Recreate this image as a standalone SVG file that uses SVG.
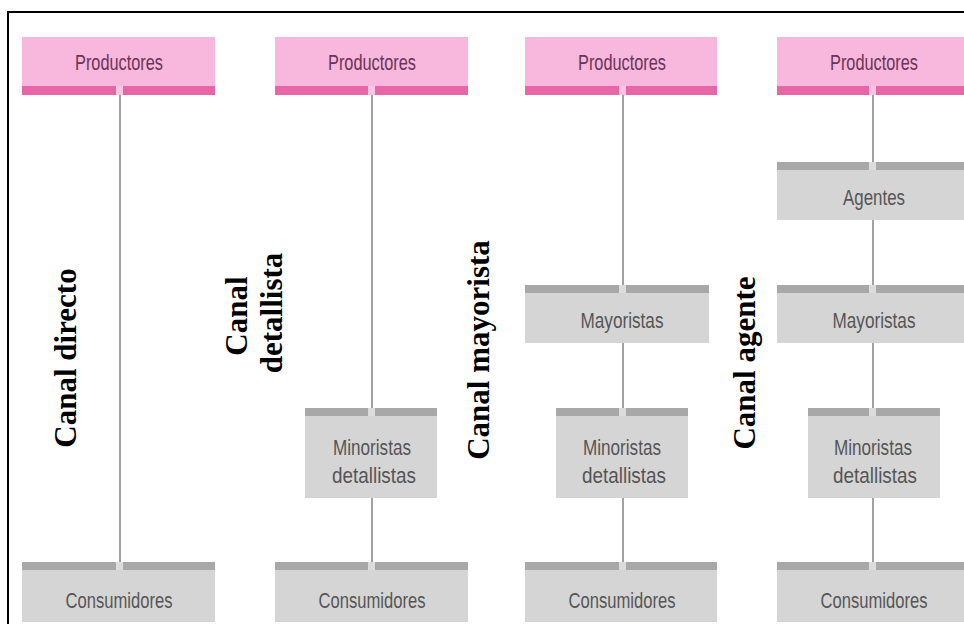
<svg xmlns="http://www.w3.org/2000/svg" width="964" height="624" viewBox="0 0 964 624">
<style>
.pink{fill:#f8b7dc}
.pband{fill:#e666a7}
.gray{fill:#d5d5d5}
.gband{fill:#a8a8a8}
.gapp{fill:#f8c6e3}
.gapg{fill:#dcdcdc}
.pt{font-family:"Liberation Sans",Arial,sans-serif;font-size:22px;fill:#6b3357;text-anchor:middle}
.gt{font-family:"Liberation Sans",Arial,sans-serif;font-size:22px;fill:#555555;text-anchor:middle}
.lbl{font-family:"Liberation Serif","Times New Roman",serif;font-size:31px;font-weight:bold;fill:#000;text-anchor:middle}
.conn line{stroke:#8a8a8a;stroke-width:1.6}
</style>
<rect x="0" y="0" width="964" height="624" fill="#fff"/>
<path d="M8,626 V12 H966" fill="none" stroke="#000" stroke-width="2"/>

<g id="connectors" class="conn">
<line x1="120" y1="92" x2="120" y2="566"/>
<line x1="372" y1="92" x2="372" y2="412"/>
<line x1="372" y1="498" x2="372" y2="566"/>
<line x1="623" y1="92" x2="623" y2="289"/>
<line x1="623" y1="343" x2="623" y2="412"/>
<line x1="623" y1="498" x2="623" y2="566"/>
<line x1="873" y1="92" x2="873" y2="166"/>
<line x1="873" y1="220" x2="873" y2="289"/>
<line x1="873" y1="343" x2="873" y2="412"/>
<line x1="873" y1="498" x2="873" y2="566"/>
</g>

<g id="prod1">
<rect class="pink" x="22" y="37" width="193" height="58"/>
<rect class="pband" x="22" y="86" width="193" height="9"/>
<rect class="gapp" x="116" y="86" width="7" height="9"/>
<text class="pt" x="119" y="70" textLength="88" lengthAdjust="spacingAndGlyphs">Productores</text>
</g>
<g id="prod2">
<rect class="pink" x="275" y="37" width="193" height="58"/>
<rect class="pband" x="275" y="86" width="193" height="9"/>
<rect class="gapp" x="368" y="86" width="7" height="9"/>
<text class="pt" x="372" y="70" textLength="88" lengthAdjust="spacingAndGlyphs">Productores</text>
</g>
<g id="prod3">
<rect class="pink" x="525" y="37" width="192" height="58"/>
<rect class="pband" x="525" y="86" width="192" height="9"/>
<rect class="gapp" x="619" y="86" width="7" height="9"/>
<text class="pt" x="622" y="70" textLength="88" lengthAdjust="spacingAndGlyphs">Productores</text>
</g>
<g id="prod4">
<rect class="pink" x="777" y="37" width="193" height="58"/>
<rect class="pband" x="777" y="86" width="193" height="9"/>
<rect class="gapp" x="869" y="86" width="7" height="9"/>
<text class="pt" x="874" y="70" textLength="88" lengthAdjust="spacingAndGlyphs">Productores</text>
</g>

<g id="agentes4">
<rect class="gray" x="777" y="162" width="193" height="58"/>
<rect class="gband" x="777" y="162" width="193" height="8"/>
<rect class="gapg" x="869" y="162" width="7" height="8"/>
<text class="gt" x="874" y="205" textLength="62" lengthAdjust="spacingAndGlyphs">Agentes</text>
</g>

<g id="may3">
<rect class="gray" x="525" y="285" width="184" height="58"/>
<rect class="gband" x="525" y="285" width="184" height="8"/>
<rect class="gapg" x="619" y="285" width="7" height="8"/>
<text class="gt" x="622" y="328" textLength="83" lengthAdjust="spacingAndGlyphs">Mayoristas</text>
</g>
<g id="may4">
<rect class="gray" x="777" y="285" width="193" height="58"/>
<rect class="gband" x="777" y="285" width="193" height="8"/>
<rect class="gapg" x="869" y="285" width="7" height="8"/>
<text class="gt" x="874" y="328" textLength="83" lengthAdjust="spacingAndGlyphs">Mayoristas</text>
</g>

<g id="min2">
<rect class="gray" x="305" y="408" width="132" height="90"/>
<rect class="gband" x="305" y="408" width="132" height="8"/>
<rect class="gapg" x="368" y="408" width="7" height="8"/>
<text class="gt" x="372" y="455" textLength="78" lengthAdjust="spacingAndGlyphs">Minoristas</text>
<text class="gt" x="374" y="483" textLength="84" lengthAdjust="spacingAndGlyphs">detallistas</text>
</g>
<g id="min3">
<rect class="gray" x="556" y="408" width="132" height="90"/>
<rect class="gband" x="556" y="408" width="132" height="8"/>
<rect class="gapg" x="619" y="408" width="7" height="8"/>
<text class="gt" x="622" y="455" textLength="78" lengthAdjust="spacingAndGlyphs">Minoristas</text>
<text class="gt" x="624" y="483" textLength="84" lengthAdjust="spacingAndGlyphs">detallistas</text>
</g>
<g id="min4">
<rect class="gray" x="808" y="408" width="132" height="90"/>
<rect class="gband" x="808" y="408" width="132" height="8"/>
<rect class="gapg" x="869" y="408" width="7" height="8"/>
<text class="gt" x="873" y="455" textLength="78" lengthAdjust="spacingAndGlyphs">Minoristas</text>
<text class="gt" x="875" y="483" textLength="84" lengthAdjust="spacingAndGlyphs">detallistas</text>
</g>

<g id="cons1">
<rect class="gray" x="22" y="562" width="193" height="60"/>
<rect class="gband" x="22" y="562" width="193" height="8"/>
<rect class="gapg" x="116" y="562" width="7" height="8"/>
<text class="gt" x="119" y="608" textLength="107" lengthAdjust="spacingAndGlyphs">Consumidores</text>
</g>
<g id="cons2">
<rect class="gray" x="275" y="562" width="193" height="60"/>
<rect class="gband" x="275" y="562" width="193" height="8"/>
<rect class="gapg" x="368" y="562" width="7" height="8"/>
<text class="gt" x="372" y="608" textLength="107" lengthAdjust="spacingAndGlyphs">Consumidores</text>
</g>
<g id="cons3">
<rect class="gray" x="525" y="562" width="192" height="60"/>
<rect class="gband" x="525" y="562" width="192" height="8"/>
<rect class="gapg" x="619" y="562" width="7" height="8"/>
<text class="gt" x="622" y="608" textLength="107" lengthAdjust="spacingAndGlyphs">Consumidores</text>
</g>
<g id="cons4">
<rect class="gray" x="777" y="562" width="193" height="60"/>
<rect class="gband" x="777" y="562" width="193" height="8"/>
<rect class="gapg" x="869" y="562" width="7" height="8"/>
<text class="gt" x="874" y="608" textLength="107" lengthAdjust="spacingAndGlyphs">Consumidores</text>
</g>

<g id="labels">
<text class="lbl" transform="translate(76,358) rotate(-90)">Canal directo</text>
<text class="lbl" transform="translate(247,316) rotate(-90)">Canal</text>
<text class="lbl" transform="translate(282,313) rotate(-90)">detallista</text>
<text class="lbl" transform="translate(489,350) rotate(-90)">Canal mayorista</text>
<text class="lbl" transform="translate(755,363) rotate(-90)">Canal agente</text>
</g>
</svg>
